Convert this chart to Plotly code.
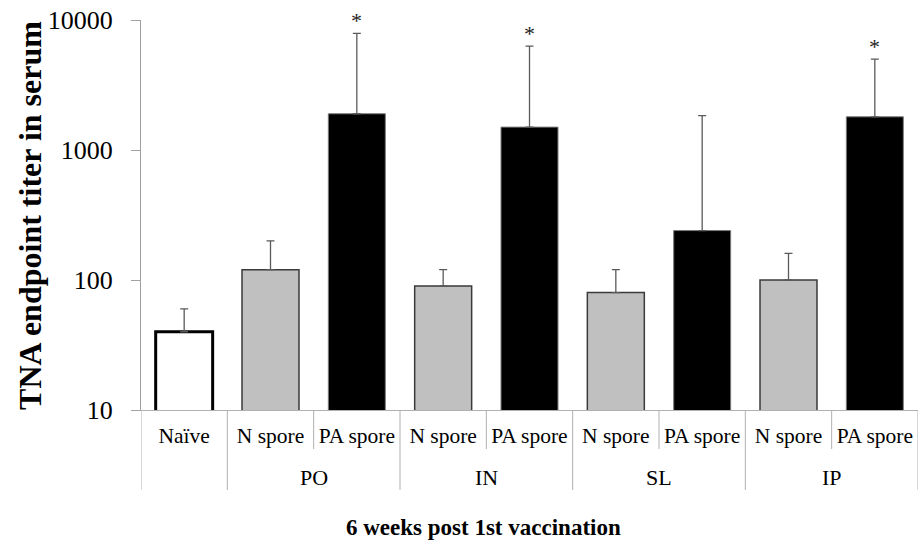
import math
import plotly.graph_objects as go

# groups / sub-categories along the x axis
groups = ["", "PO", "PO", "IN", "IN", "SL", "SL", "IP", "IP"]
labels = ["Naïve", "N spore", "PA spore", "N spore", "PA spore",
          "N spore", "PA spore", "N spore", "PA spore"]

# TNA endpoint titer (geometric means) and upper error
titer = [40, 120, 1900, 90, 1500, 80, 240, 100, 1800]
err_plus = [20, 80, 6000, 30, 4800, 40, 1600, 60, 3200]
significant = [False, False, True, False, True, False, False, False, True]

group_names = ["PO", "IN", "SL", "IP"]

SERIF = "Liberation Serif"

fill = {"Naïve": "white", "N spore": "#c0c0c0", "PA spore": "black"}
edge = {"Naïve": "black", "N spore": "#3a3a3a", "PA spore": "#7a7a7a"}
edge_w = {"Naïve": 3, "N spore": 1.5, "PA spore": 1}

xs = list(range(len(labels)))

fig = go.Figure()
fig.add_trace(go.Bar(
    x=xs, y=titer,
    marker=dict(color=[fill[l] for l in labels],
                line=dict(color=[edge[l] for l in labels],
                          width=[edge_w[l] for l in labels])),
    error_y=dict(type="data", symmetric=False, array=err_plus,
                 arrayminus=[0] * len(titer),
                 color="#5a5a5a", thickness=1.3, width=4),
    showlegend=False,
))

# asterisks above significant groups (annotation y on a log axis is log10)
for i, sig in enumerate(significant):
    if sig:
        fig.add_annotation(x=i, y=math.log10(titer[i] + err_plus[i]),
                           yref="y", xref="x",
                           text="*", showarrow=False, yanchor="bottom", yshift=-2,
                           font=dict(family=SERIF, size=22, color="#222"))

# category dividers below the axis: long ones between groups, short inside
for i in range(len(labels) + 1):
    b = i - 0.5
    long_line = i == 0 or i == len(labels) or groups[i] != groups[i - 1]
    fig.add_shape(type="line", xref="x", yref="paper", x0=b, x1=b,
                  y0=0, y1=-0.205 if long_line else -0.10,
                  line=dict(color="#b0b0b0", width=1))

# group labels on the second row
for g in group_names:
    idx = [i for i, gg in enumerate(groups) if gg == g]
    fig.add_annotation(x=sum(idx) / len(idx), y=-0.172, xref="x", yref="paper",
                       text=g, showarrow=False, yanchor="middle",
                       font=dict(family=SERIF, size=22, color="black"))

fig.add_annotation(x=0.4414, y=-0.30, xref="paper", yref="paper",
                   text="<b>6 weeks post 1st vaccination</b>", showarrow=False,
                   yanchor="middle",
                   font=dict(family=SERIF, size=23, color="black"))

fig.add_annotation(x=-0.143, y=0.5, xref="paper", yref="paper",
                   text="<b>TNA endpoint titer in serum</b>", showarrow=False,
                   textangle=-90, xanchor="center", yanchor="middle",
                   font=dict(family=SERIF, size=32, color="black"))

fig.update_layout(
    width=924, height=549,
    margin=dict(l=141, r=6, t=20, b=139),
    plot_bgcolor="white", paper_bgcolor="white",
    bargap=0.34,
    font=dict(family=SERIF, color="black"),
)
fig.update_xaxes(
    tickmode="array", tickvals=xs, ticktext=labels,
    range=[-0.5, len(labels) - 0.5],
    showline=True, linecolor="#b0b0b0", linewidth=1,
    showgrid=False, zeroline=False, ticks="",
    tickfont=dict(family=SERIF, size=21.5, color="black"),
    ticklabelstandoff=6, automargin=False,
)
fig.update_yaxes(
    type="log", range=[1, 4],
    tickvals=[10, 100, 1000, 10000], ticktext=["10", "100", "1000", "10000"],
    showline=True, linecolor="#a0a0a0", linewidth=1,
    showgrid=False, zeroline=False,
    ticks="outside", ticklen=9, tickcolor="#a0a0a0",
    tickfont=dict(family=SERIF, size=26, color="black"),
    ticklabelstandoff=13, automargin=False,
)

# drop the browser's default 8px body margin so the figure sits at 0,0
fig.write_html("out.html", config={"displayModeBar": False},
               post_script="document.body.style.margin = '0';")
